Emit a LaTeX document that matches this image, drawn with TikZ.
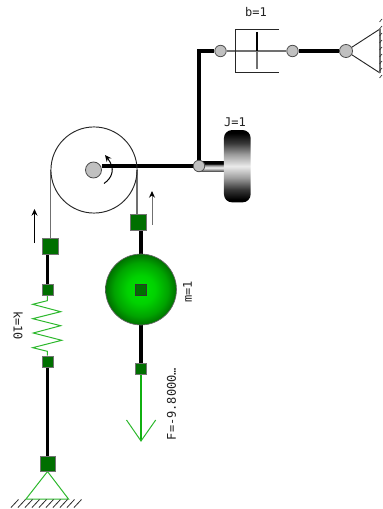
\documentclass[tikz,border=0pt]{standalone}
\usepackage{fontspec}
\setmonofont{DejaVu Sans Mono}
\usetikzlibrary{arrows.meta,positioning,calc,backgrounds}
\definecolor{portgreen}{HTML}{006F00}
\definecolor{wiregreen}{HTML}{2DB82D}
\definecolor{forcegreen}{HTML}{10B010}
\definecolor{jointgray}{HTML}{C0C0C0}
\definecolor{ropegray}{HTML}{707070}
\definecolor{labelink}{HTML}{222222}
\pgfdeclareradialshading{massshade}{\pgfpoint{0bp}{0bp}}{
  rgb(0bp)=(0,0.9,0); rgb(10bp)=(0,0.82,0); rgb(19bp)=(0,0.64,0); rgb(25bp)=(0,0.44,0); rgb(50bp)=(0,0.44,0)}
\pgfdeclareverticalshading{wheelshade}{100bp}{
  color(0bp)=(black); color(27bp)=(black); color(34bp)=(black!78); color(42bp)=(black!38); color(50bp)=(white!92!black); color(58bp)=(black!38); color(66bp)=(black!78); color(73bp)=(black); color(100bp)=(black)}
\pgfdeclareverticalshading{shaftshade}{100bp}{
  color(0bp)=(black); color(27bp)=(black!75); color(36bp)=(black!35); color(45bp)=(black!5); color(56bp)=(black!45); color(63bp)=(black); color(100bp)=(black)}
\tikzset{
  bigport/.style={rectangle,draw=black!55,line width=0.6pt,fill=portgreen,
    minimum size=12pt,inner sep=0pt},
  smallport/.style={rectangle,draw=black!55,line width=0.6pt,fill=portgreen,
    minimum size=8.4pt,inner sep=0pt},
  joint/.style={circle,draw=black!70,line width=0.6pt,fill=jointgray,
    minimum size=8.6pt,inner sep=0pt},
  bar/.style={line width=2.4pt,color=black},
  rope/.style={line width=0.8pt,color=ropegray},
  greenline/.style={line width=0.75pt,color=wiregreen},
  thinline/.style={line width=0.7pt,color=black!85},
  valuelabel/.style={font=\ttfamily\fontsize{9pt}{10pt}\selectfont,color=labelink,inner sep=0pt},
  movearr/.style={-{Stealth[length=5pt,width=4.5pt]},line width=0.75pt},
}
\begin{document}
\begin{tikzpicture}[x=0.75pt,y=-0.75pt]
  \useasboundingbox (0,0) rectangle (382,509);

  % pulley
  \node[circle,draw=black!85,line width=0.7pt,minimum size=64.6pt,inner sep=0pt] (pulley) at (94,170) {};
  \node[joint,minimum size=12pt] (hub) at (93.5,170) {};
  \coordinate (ropeleft) at (50.7,170);
  \coordinate (roperight) at (137,170);
  \node[bigport] (leftport) at (50.5,246.5) {};
  \node[bigport] (rightport) at (138.5,222) {};

  % wheel and shaft
  \node[rectangle,shading=shaftshade,minimum width=18.5pt,minimum height=8.2pt,inner sep=0pt] (shaft) at (212,166.5) {};
  \node[rectangle,rounded corners=6pt,shading=wheelshade,minimum width=20pt,minimum height=54.2pt,inner sep=0pt] (wheel) at (237.3,166.2) {};
  \node[joint] (wheeljoint) at (199,166) {};
  \node[valuelabel] (wheellabel) at (235,122.5) {J=1};

  % damper
  \node[joint] (damperin) at (220.5,51) {};
  \node[joint] (damperout) at (292.5,51) {};
  \node[joint,minimum size=9.8pt] (groundjoint) at (346,51) {};
  \coordinate (piston) at (257,51);
  \coordinate (cornertop) at (235,29);
  \coordinate (cornerbot) at (235,72.5);
  \coordinate (elbow) at (199,51);
  \draw[thinline] ($(cornertop)+(44,0)$) -- (cornertop) -- (cornerbot) -- ($(cornerbot)+(44,0)$);
  \node[valuelabel] (damperlabel) at (256,12) {b=1};

  % fixed support, top right
  \coordinate (supporttop) at (380,29);
  \coordinate (supportbot) at (380,73);
  \foreach \y in {22,29,36,43,50,57,64,71,78}
    \draw[line width=0.5pt,color=black!80] (379.5,\y) -- (382,\y-3);

  % spring
  \node[smallport] (springtop) at (47.5,289.5) {};
  \node[smallport] (springbot) at (47.5,361.5) {};
  \node[bigport,minimum size=11.4pt] (fixedport) at (47.5,463.5) {};
  \node[valuelabel,rotate=-90] (springlabel) at (18,325.5) {k=10};

  % fixed support, bottom left
  \coordinate (footleft) at (26,499);
  \coordinate (footright) at (68.5,499);
  \foreach \x in {11,18,...,74}
    \draw[line width=0.6pt,color=black!85] (\x,507.5) -- (\x+7.5,499.5);

  % mass
  \node[circle,draw=black!60,line width=0.5pt,shading=massshade,minimum size=53.2pt,inner sep=0pt] (mass) at (141,289.5) {};
  \node[smallport,draw=black!80] (massport) at (141,290) {};
  \node[smallport] (forceport) at (141,369) {};
  \node[valuelabel,rotate=90] (masslabel) at (187.5,292) {m=1};

  % force
  \coordinate (forcetip) at (141,441);
  \node[valuelabel,rotate=90] (forcelabel) at (171.5,404) {F=-9.8000…};

  % motion arrows
  \coordinate (arrleft) at (34.5,243);
  \coordinate (arrright) at (152,225);
  \draw[movearr,color=black] (arrleft) -- ($(arrleft)+(0,-34)$);
  \draw[movearr,color=ropegray,{-{Stealth[length=5pt,width=4.5pt,color=black]}}] (arrright) -- ($(arrright)+(0,-34)$);
  \draw[movearr,color=black] (104,183.5) .. controls (112,178) and (116,169) .. (105,155);

  \begin{pgfonlayer}{background}
    \draw[rope] (ropeleft) -- (ropeleft |- leftport.north);
    \draw[rope] (roperight) -- (roperight |- rightport.north);
    \draw[bar] (hub.east |- wheeljoint) -- (wheeljoint);
    \draw[bar] (wheeljoint) -- (elbow) -- (damperin);
    \draw[rope] (damperin) -- (damperout);
    \draw[line width=1pt,color=black] ($(piston)+(0,-19)$) -- (piston);
    \draw[rope,line width=1pt] (piston) -- ($(piston)+(0,18)$);
    \draw[bar] (damperout) -- (groundjoint);
    \draw[thinline] (supporttop) -- (groundjoint) -- (supportbot);
    \draw[rope] (supporttop) -- (supportbot);
    \draw[bar] (leftport.south -| springtop) -- (springtop);
    \draw[greenline] (springtop) -- (47.3,300.7) -- (32.7,304.3) -- (60.7,311.7) -- (32.7,318.7)
      -- (60.7,325.7) -- (33.3,333) -- (61.7,340.3) -- (32.7,347.7) -- (47.3,351.3) -- (springbot);
    \draw[bar] (springbot) -- (fixedport);
    \draw[greenline] (fixedport.south) -- (footleft) -- (footright) -- cycle;
    \draw[bar] (rightport.south -| mass) -- (mass.north);
    \draw[bar] (mass.south) -- (forceport);
    \draw[line width=1.4pt,color=forcegreen] (forceport) -- (forcetip);
    \draw[greenline] (126.5,420) -- (forcetip) -- (155.7,420);
  \end{pgfonlayer}
\end{tikzpicture}
\end{document}
